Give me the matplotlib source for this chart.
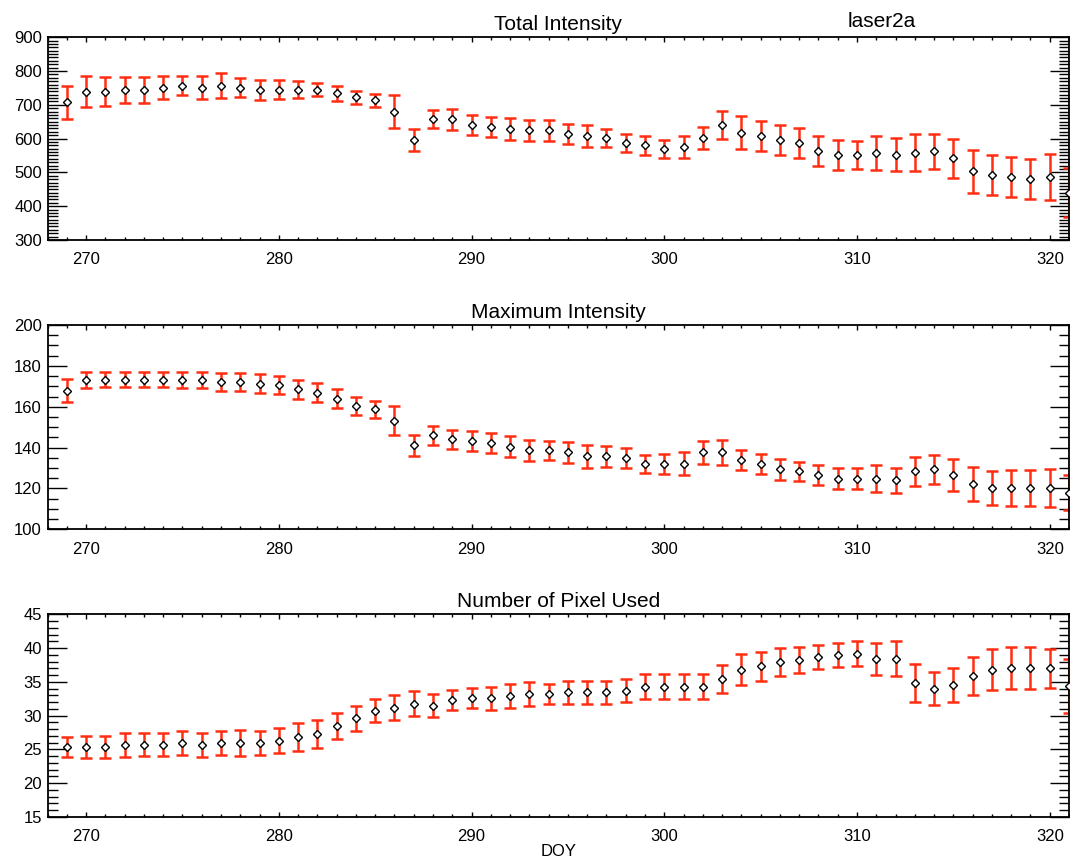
import matplotlib
matplotlib.use("Agg")
import matplotlib.pyplot as plt
from matplotlib.ticker import MultipleLocator

plt.rcParams['font.family'] = ['Liberation Sans', 'DejaVu Sans']

doy = list(range(269, 322))

total = [708, 739, 739, 744, 744, 751, 756, 751, 756, 751, 744, 744, 744, 744,
         734, 722, 713, 679, 596, 657, 657, 641, 634, 629, 624, 624, 614, 608,
         602, 586, 580, 570, 575, 602, 641, 618, 608, 596, 586, 563, 552, 552,
         558, 552, 558, 563, 542, 503, 492, 486, 481, 486, 440]
total_err = [49, 45, 42, 39, 39, 34, 28, 34, 37, 28, 30, 28, 25, 19, 23, 20, 19,
             49, 33, 27, 32, 30, 30, 32, 30, 30, 30, 33, 27, 27, 28, 27, 33, 33,
             41, 49, 44, 44, 44, 44, 44, 41, 50, 49, 55, 52, 58, 63, 60, 60, 60,
             69, 73]

maxint = [167.8, 173.2, 173.2, 173.2, 173.2, 173.2, 173.2, 173.2, 172.2, 172.2,
          171.3, 170.5, 168.6, 166.8, 164.0, 160.5, 158.7, 153.1, 141.1, 145.9,
          144.0, 143.2, 142.2, 140.5, 138.6, 138.6, 137.6, 135.7, 135.7, 134.9,
          132.0, 132.0, 132.0, 137.6, 137.6, 133.9, 132.0, 129.3, 128.3, 126.6,
          124.8, 124.8, 124.8, 123.9, 128.3, 129.3, 126.6, 122.1, 120.2, 120.2,
          120.2, 120.2, 117.8]
maxint_err = [5.6, 4.0, 3.6, 3.6, 3.6, 3.6, 4.0, 4.0, 4.5, 4.5, 4.5, 4.5, 4.6,
              4.6, 4.6, 4.5, 4.0, 7.2, 5.0, 4.6, 4.5, 5.0, 5.0, 5.0, 5.0, 4.6,
              5.0, 5.5, 5.0, 5.0, 4.5, 5.0, 5.6, 5.6, 6.0, 5.0, 5.0, 5.0, 4.6,
              5.0, 5.0, 5.0, 6.5, 6.0, 7.0, 7.0, 7.8, 8.3, 8.3, 8.7, 9.0, 9.5,
              8.6]

npix = [25.4, 25.4, 25.4, 25.7, 25.7, 25.7, 26.0, 25.7, 26.0, 26.0, 26.0, 26.3,
        26.8, 27.3, 28.5, 29.6, 30.7, 31.2, 31.8, 31.5, 32.3, 32.6, 32.6, 32.9,
        33.2, 33.2, 33.5, 33.5, 33.5, 33.7, 34.3, 34.3, 34.3, 34.3, 35.4, 36.8,
        37.3, 37.9, 38.2, 38.7, 39.0, 39.2, 38.4, 38.4, 34.8, 34.0, 34.5, 35.9,
        36.8, 37.0, 37.0, 37.0, 34.4]
npix_err = [1.5, 1.6, 1.6, 1.8, 1.7, 1.7, 1.8, 1.8, 1.8, 1.9, 1.8, 1.9, 2.1,
            2.1, 1.9, 1.8, 1.7, 1.9, 1.9, 1.7, 1.5, 1.5, 1.7, 1.8, 1.8, 1.5,
            1.7, 1.7, 1.7, 1.7, 1.8, 1.9, 1.9, 1.8, 2.1, 2.3, 2.2, 2.1, 1.9,
            1.8, 1.8, 1.9, 2.4, 2.6, 2.8, 2.4, 2.5, 2.8, 3.0, 3.1, 3.1, 2.9,
            4.0]

panels = [
    ("Total Intensity", total, total_err, (300, 900), 100, 10),
    ("Maximum Intensity", maxint, maxint_err, (100, 200), 20, 5),
    ("Number of Pixel Used", npix, npix_err, (15, 45), 5, 1),
]

fig = plt.figure(figsize=(10.7, 8.67), dpi=100)
left, width = 0.0444, 0.9547
bottoms = [0.7232, 0.3896, 0.0577]
heights = [0.2339, 0.2355, 0.2337]

red = '#ff2d12'
for (title, vals, errs, ylim, ymaj, ymin), b, h in zip(panels, bottoms, heights):
    ax = fig.add_axes([left, b, width, h])
    ax.errorbar(doy, vals, yerr=errs, fmt='none', ecolor=red, elinewidth=1.8,
                capsize=4.5, capthick=1.8, zorder=2)
    ax.plot(doy, vals, linestyle='none', marker='D', markersize=4.3,
            mfc='white', mec='black', mew=1.0, zorder=3)
    ax.set_xlim(268, 321)
    ax.set_ylim(*ylim)
    ax.xaxis.set_major_locator(MultipleLocator(10))
    ax.xaxis.set_minor_locator(MultipleLocator(1))
    ax.yaxis.set_major_locator(MultipleLocator(ymaj))
    ax.yaxis.set_minor_locator(MultipleLocator(ymin))
    ax.tick_params(which='both', direction='in', top=True, right=True,
                   width=1.0, labelsize=12)
    ax.tick_params(axis='y', which='major', length=14, pad=4)
    ax.tick_params(axis='y', which='minor', length=7)
    ax.tick_params(axis='x', which='major', length=3.5, pad=9)
    ax.tick_params(axis='x', which='minor', length=2.5)
    for s in ax.spines.values():
        s.set_linewidth(1.3)
    ax.set_title(title, fontsize=15, pad=5)

ax.set_xlabel("DOY", fontsize=12, labelpad=0)
fig.text(0.824, 0.975, "laser2a", fontsize=15, ha='center', va='center')

fig.savefig("out.png", dpi=100)
